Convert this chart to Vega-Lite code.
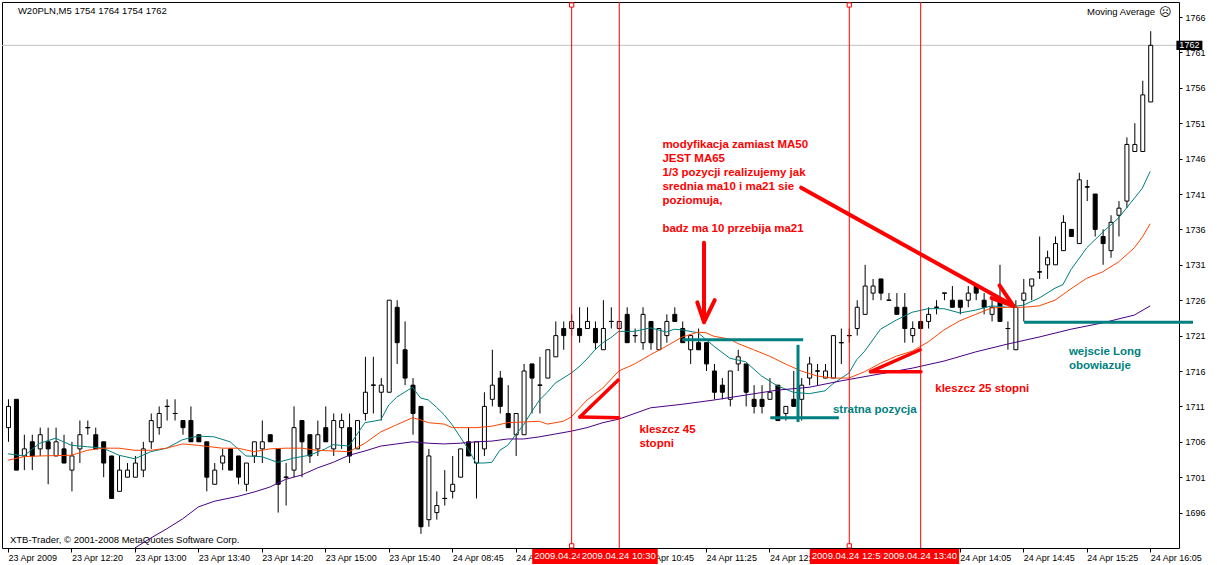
{
"$schema":"https://vega.github.io/schema/vega-lite/v6.json",
"width":1177,"height":546,
"autosize":{"type":"none"},
"padding":{"left":2,"top":2,"right":38,"bottom":17},
"background":"white",
"config":{"view":{"stroke":"black","strokeWidth":1},"axis":{"title":null}},
"resolve":{"axis":{"x":"independent","y":"independent"}},
"datasets":{
"bid":[{"p":1762}],
"candles":[
{"i":0,"o":1708,"h":1712,"l":1706,"c":1711},{"i":1,"o":1712,"h":1712,"l":1702,"c":1702},{"i":2,"o":1704,"h":1707,"l":1702,"c":1705},{"i":3,"o":1706,"h":1707,"l":1702,"c":1704},{"i":4,"o":1705,"h":1708,"l":1704,"c":1707},{"i":5,"o":1706,"h":1708,"l":1700,"c":1705},{"i":6,"o":1704,"h":1708,"l":1704,"c":1706},{"i":7,"o":1705,"h":1707,"l":1703,"c":1703},{"i":8,"o":1702,"h":1706,"l":1699,"c":1704},{"i":9,"o":1705,"h":1709,"l":1703,"c":1707},
{"i":10,"o":1708,"h":1709,"l":1707,"c":1708},{"i":11,"o":1707,"h":1708,"l":1705,"c":1705},{"i":12,"o":1706,"h":1706,"l":1701,"c":1703},{"i":13,"o":1704,"h":1704,"l":1698,"c":1698},{"i":14,"o":1699,"h":1704,"l":1699,"c":1702},{"i":15,"o":1701,"h":1703,"l":1701,"c":1702},{"i":16,"o":1701,"h":1704,"l":1701,"c":1703},{"i":17,"o":1702,"h":1706,"l":1701,"c":1705},{"i":18,"o":1706,"h":1710,"l":1705,"c":1709},{"i":19,"o":1708,"h":1711,"l":1707,"c":1710},
{"i":20,"o":1711,"h":1712,"l":1709,"c":1711},{"i":21,"o":1710,"h":1712,"l":1709,"c":1710},{"i":22,"o":1709,"h":1709,"l":1707,"c":1708},{"i":23,"o":1709,"h":1711,"l":1706,"c":1706},{"i":24,"o":1707,"h":1707,"l":1706,"c":1706},{"i":25,"o":1706,"h":1706,"l":1699,"c":1701},{"i":26,"o":1700,"h":1703,"l":1700,"c":1702},{"i":27,"o":1703,"h":1705,"l":1702,"c":1704},{"i":28,"o":1705,"h":1705,"l":1702,"c":1702},{"i":29,"o":1704,"h":1704,"l":1700,"c":1701},
{"i":30,"o":1700,"h":1703,"l":1699,"c":1703},{"i":31,"o":1704,"h":1706,"l":1703,"c":1706},{"i":32,"o":1705,"h":1709,"l":1703,"c":1706},{"i":33,"o":1707,"h":1707,"l":1706,"c":1706},{"i":34,"o":1705,"h":1705,"l":1696,"c":1700},{"i":35,"o":1701,"h":1703,"l":1697,"c":1701},{"i":36,"o":1702,"h":1711,"l":1701,"c":1708},{"i":37,"o":1709,"h":1709,"l":1701,"c":1706},{"i":38,"o":1707,"h":1707,"l":1703,"c":1704},{"i":39,"o":1705,"h":1709,"l":1704,"c":1707},
{"i":40,"o":1708,"h":1711,"l":1706,"c":1706},{"i":41,"o":1705,"h":1710,"l":1704,"c":1709},{"i":42,"o":1708,"h":1710,"l":1705,"c":1709},{"i":43,"o":1708,"h":1710,"l":1703,"c":1704},{"i":44,"o":1705,"h":1709,"l":1705,"c":1709},{"i":45,"o":1710,"h":1718,"l":1709,"c":1713},{"i":46,"o":1714,"h":1718,"l":1710,"c":1714},{"i":47,"o":1713,"h":1715,"l":1709,"c":1714},{"i":48,"o":1713,"h":1726,"l":1713,"c":1726},{"i":49,"o":1725,"h":1726,"l":1717,"c":1720},
{"i":50,"o":1719,"h":1723,"l":1714,"c":1715},{"i":51,"o":1714,"h":1715,"l":1707,"c":1710},{"i":52,"o":1711,"h":1711,"l":1693,"c":1694},{"i":53,"o":1695,"h":1705,"l":1694,"c":1704},{"i":54,"o":1696,"h":1699,"l":1695,"c":1697},{"i":55,"o":1698,"h":1702,"l":1697,"c":1698},{"i":56,"o":1699,"h":1704,"l":1698,"c":1700},{"i":57,"o":1701,"h":1705,"l":1701,"c":1705},{"i":58,"o":1706,"h":1708,"l":1704,"c":1704},{"i":59,"o":1703,"h":1706,"l":1698,"c":1706},
{"i":60,"o":1705,"h":1713,"l":1704,"c":1711},{"i":61,"o":1712,"h":1719,"l":1711,"c":1714},{"i":62,"o":1715,"h":1716,"l":1710,"c":1711},{"i":63,"o":1710,"h":1714,"l":1708,"c":1708},{"i":64,"o":1707,"h":1710,"l":1704,"c":1710},{"i":65,"o":1707,"h":1717,"l":1707,"c":1716},{"i":66,"o":1717,"h":1717,"l":1710,"c":1715},{"i":67,"o":1714,"h":1718,"l":1710,"c":1714},{"i":68,"o":1715,"h":1719,"l":1715,"c":1719},{"i":69,"o":1718,"h":1723,"l":1718,"c":1721},
{"i":70,"o":1722,"h":1723,"l":1719,"c":1721},{"i":71,"o":1722,"h":1724,"l":1721,"c":1723},{"i":72,"o":1722,"h":1725,"l":1720,"c":1721},{"i":73,"o":1722,"h":1725,"l":1722,"c":1723},{"i":74,"o":1722,"h":1723,"l":1719,"c":1720},{"i":75,"o":1719,"h":1726,"l":1719,"c":1722},{"i":76,"o":1723,"h":1725,"l":1722,"c":1723},{"i":77,"o":1722,"h":1723,"l":1722,"c":1723},{"i":78,"o":1724,"h":1725,"l":1720,"c":1720},{"i":79,"o":1721,"h":1722,"l":1720,"c":1721},
{"i":80,"o":1720,"h":1725,"l":1719,"c":1724},{"i":81,"o":1723,"h":1723,"l":1719,"c":1720},{"i":82,"o":1719,"h":1722,"l":1719,"c":1722},{"i":83,"o":1721,"h":1724,"l":1720,"c":1723},{"i":84,"o":1724,"h":1725,"l":1723,"c":1723},{"i":85,"o":1722,"h":1723,"l":1720,"c":1720},{"i":86,"o":1719,"h":1721,"l":1717,"c":1721},{"i":87,"o":1720,"h":1722,"l":1719,"c":1719},{"i":88,"o":1720,"h":1720,"l":1716,"c":1717},{"i":89,"o":1716,"h":1717,"l":1712,"c":1713},
{"i":90,"o":1714,"h":1715,"l":1712,"c":1713},{"i":91,"o":1712,"h":1716,"l":1711,"c":1716},{"i":92,"o":1717,"h":1719,"l":1716,"c":1718},{"i":93,"o":1717,"h":1717,"l":1711,"c":1713},{"i":94,"o":1712,"h":1714,"l":1710,"c":1711},{"i":95,"o":1712,"h":1714,"l":1710,"c":1711},{"i":96,"o":1712,"h":1715,"l":1712,"c":1713},{"i":97,"o":1714,"h":1714,"l":1709,"c":1709},{"i":98,"o":1710,"h":1711,"l":1709,"c":1711},{"i":99,"o":1712,"h":1716,"l":1711,"c":1711},
{"i":100,"o":1712,"h":1715,"l":1709,"c":1714},{"i":101,"o":1715,"h":1718,"l":1714,"c":1717},{"i":102,"o":1716,"h":1717,"l":1714,"c":1716},{"i":103,"o":1715,"h":1717,"l":1715,"c":1716},{"i":104,"o":1715,"h":1721,"l":1715,"c":1721},{"i":105,"o":1720,"h":1722,"l":1717,"c":1720},{"i":106,"o":1721,"h":1722,"l":1720,"c":1721},{"i":107,"o":1722,"h":1726,"l":1721,"c":1725},{"i":108,"o":1724,"h":1731,"l":1724,"c":1728},{"i":109,"o":1727,"h":1729,"l":1726,"c":1728},
{"i":110,"o":1729,"h":1729,"l":1726,"c":1727},{"i":111,"o":1726,"h":1727,"l":1726,"c":1726},{"i":112,"o":1725,"h":1727,"l":1724,"c":1724},{"i":113,"o":1725,"h":1727,"l":1720,"c":1722},{"i":114,"o":1721,"h":1723,"l":1720,"c":1722},{"i":115,"o":1723,"h":1723,"l":1722,"c":1722},{"i":116,"o":1723,"h":1725,"l":1722,"c":1724},{"i":117,"o":1725,"h":1726,"l":1724,"c":1725},{"i":118,"o":1727,"h":1727,"l":1726,"c":1727},{"i":119,"o":1726,"h":1728,"l":1725,"c":1725},
{"i":120,"o":1726,"h":1726,"l":1724,"c":1725},{"i":121,"o":1726,"h":1728,"l":1725,"c":1727},{"i":122,"o":1728,"h":1728,"l":1726,"c":1727},{"i":123,"o":1726,"h":1727,"l":1724,"c":1725},{"i":124,"o":1724,"h":1726,"l":1723,"c":1725},{"i":125,"o":1726,"h":1731,"l":1723,"c":1723},{"i":126,"o":1722,"h":1723,"l":1719,"c":1722},{"i":127,"o":1719,"h":1726,"l":1719,"c":1725},{"i":128,"o":1726,"h":1729,"l":1723,"c":1727},{"i":129,"o":1728,"h":1729,"l":1726,"c":1729},
{"i":130,"o":1730,"h":1735,"l":1729,"c":1730},{"i":131,"o":1731,"h":1733,"l":1729,"c":1732},{"i":132,"o":1731,"h":1735,"l":1731,"c":1734},{"i":133,"o":1733,"h":1738,"l":1733,"c":1737},{"i":134,"o":1736,"h":1736,"l":1735,"c":1735},{"i":135,"o":1734,"h":1744,"l":1734,"c":1743},{"i":136,"o":1742,"h":1743,"l":1740,"c":1742},{"i":137,"o":1741,"h":1741,"l":1735,"c":1736},{"i":138,"o":1735,"h":1736,"l":1731,"c":1734},{"i":139,"o":1733,"h":1738,"l":1732,"c":1737},
{"i":140,"o":1738,"h":1740,"l":1735,"c":1739},{"i":141,"o":1740,"h":1749,"l":1739,"c":1748},{"i":142,"o":1747,"h":1751,"l":1747,"c":1748},{"i":143,"o":1747,"h":1757,"l":1747,"c":1755},{"i":144,"o":1754,"h":1764,"l":1754,"c":1762}
],
"ma":[
{"i":0,"v":1704.3,"s":"MA10"},{"i":2,"v":1704.0,"s":"MA10"},{"i":4,"v":1705.8,"s":"MA10"},{"i":6,"v":1706.5,"s":"MA10"},{"i":8,"v":1705.5,"s":"MA10"},{"i":10,"v":1705.3,"s":"MA10"},{"i":12,"v":1705.1,"s":"MA10"},{"i":14,"v":1704.1,"s":"MA10"},{"i":16,"v":1703.6,"s":"MA10"},{"i":18,"v":1704.6,"s":"MA10"},{"i":20,"v":1705.1,"s":"MA10"},{"i":22,"v":1706.3,"s":"MA10"},{"i":24,"v":1706.8,"s":"MA10"},{"i":26,"v":1706.7,"s":"MA10"},{"i":28,"v":1706.0,"s":"MA10"},{"i":30,"v":1704.0,"s":"MA10"},{"i":32,"v":1703.9,"s":"MA10"},{"i":34,"v":1703.1,"s":"MA10"},{"i":36,"v":1703.7,"s":"MA10"},{"i":38,"v":1704.1,"s":"MA10"},{"i":40,"v":1705.0,"s":"MA10"},{"i":41,"v":1705.6,"s":"MA10"},{"i":43,"v":1705.4,"s":"MA10"},{"i":45,"v":1708.7,"s":"MA10"},{"i":47,"v":1709.1,"s":"MA10"},{"i":48,"v":1711.2,"s":"MA10"},{"i":49,"v":1712.3,"s":"MA10"},{"i":51,"v":1713.7,"s":"MA10"},{"i":52,"v":1712.2,"s":"MA10"},{"i":53,"v":1711.9,"s":"MA10"},{"i":54,"v":1710.9,"s":"MA10"},{"i":55,"v":1709.8,"s":"MA10"},{"i":56,"v":1708.4,"s":"MA10"},{"i":57,"v":1706.7,"s":"MA10"},{"i":58,"v":1705.0,"s":"MA10"},{"i":59,"v":1703.0,"s":"MA10"},{"i":60,"v":1703.0,"s":"MA10"},{"i":61,"v":1703.1,"s":"MA10"},{"i":62,"v":1704.8,"s":"MA10"},{"i":63,"v":1705.5,"s":"MA10"},{"i":64,"v":1707.0,"s":"MA10"},{"i":65,"v":1708.4,"s":"MA10"},{"i":66,"v":1710.2,"s":"MA10"},{"i":67,"v":1711.9,"s":"MA10"},{"i":68,"v":1713.0,"s":"MA10"},{"i":69,"v":1714.3,"s":"MA10"},{"i":70,"v":1715.0,"s":"MA10"},{"i":71,"v":1715.7,"s":"MA10"},{"i":72,"v":1716.6,"s":"MA10"},{"i":73,"v":1717.7,"s":"MA10"},{"i":74,"v":1719.0,"s":"MA10"},{"i":75,"v":1720.0,"s":"MA10"},{"i":76,"v":1720.7,"s":"MA10"},{"i":77,"v":1721.6,"s":"MA10"},{"i":79,"v":1721.6,"s":"MA10"},{"i":81,"v":1722.1,"s":"MA10"},{"i":83,"v":1721.5,"s":"MA10"},{"i":84,"v":1721.9,"s":"MA10"},{"i":85,"v":1721.8,"s":"MA10"},{"i":87,"v":1721.4,"s":"MA10"},{"i":89,"v":1719.5,"s":"MA10"},{"i":91,"v":1717.8,"s":"MA10"},{"i":93,"v":1717.3,"s":"MA10"},{"i":95,"v":1715.3,"s":"MA10"},{"i":97,"v":1713.9,"s":"MA10"},{"i":99,"v":1713.0,"s":"MA10"},{"i":101,"v":1712.8,"s":"MA10"},{"i":103,"v":1713.2,"s":"MA10"},{"i":104,"v":1714.2,"s":"MA10"},{"i":106,"v":1715.7,"s":"MA10"},{"i":107,"v":1717.6,"s":"MA10"},{"i":108,"v":1718.8,"s":"MA10"},{"i":110,"v":1721.9,"s":"MA10"},{"i":112,"v":1723.2,"s":"MA10"},{"i":114,"v":1724.3,"s":"MA10"},{"i":116,"v":1724.8,"s":"MA10"},{"i":118,"v":1724.8,"s":"MA10"},{"i":120,"v":1724.2,"s":"MA10"},{"i":122,"v":1724.6,"s":"MA10"},{"i":124,"v":1725.2,"s":"MA10"},{"i":126,"v":1725.0,"s":"MA10"},{"i":128,"v":1725.3,"s":"MA10"},{"i":130,"v":1726.3,"s":"MA10"},{"i":132,"v":1727.7,"s":"MA10"},{"i":133,"v":1728.2,"s":"MA10"},{"i":134,"v":1730.3,"s":"MA10"},{"i":136,"v":1733.4,"s":"MA10"},{"i":138,"v":1735.6,"s":"MA10"},{"i":140,"v":1737.6,"s":"MA10"},{"i":142,"v":1740.4,"s":"MA10"},{"i":143,"v":1741.8,"s":"MA10"},{"i":144,"v":1744.2,"s":"MA10"},
{"i":0,"v":1703.4,"s":"MA21"},{"i":2,"v":1703.9,"s":"MA21"},{"i":4,"v":1704.0,"s":"MA21"},{"i":8,"v":1704.1,"s":"MA21"},{"i":10,"v":1704.8,"s":"MA21"},{"i":12,"v":1705.1,"s":"MA21"},{"i":14,"v":1705.1,"s":"MA21"},{"i":16,"v":1704.8,"s":"MA21"},{"i":18,"v":1704.8,"s":"MA21"},{"i":20,"v":1705.1,"s":"MA21"},{"i":22,"v":1705.7,"s":"MA21"},{"i":24,"v":1705.5,"s":"MA21"},{"i":27,"v":1705.1,"s":"MA21"},{"i":29,"v":1705.1,"s":"MA21"},{"i":31,"v":1704.6,"s":"MA21"},{"i":33,"v":1705.0,"s":"MA21"},{"i":35,"v":1705.1,"s":"MA21"},{"i":37,"v":1705.1,"s":"MA21"},{"i":39,"v":1704.8,"s":"MA21"},{"i":41,"v":1704.7,"s":"MA21"},{"i":43,"v":1704.6,"s":"MA21"},{"i":45,"v":1705.8,"s":"MA21"},{"i":47,"v":1707.4,"s":"MA21"},{"i":49,"v":1708.4,"s":"MA21"},{"i":51,"v":1709.4,"s":"MA21"},{"i":52,"v":1709.1,"s":"MA21"},{"i":53,"v":1708.7,"s":"MA21"},{"i":55,"v":1708.5,"s":"MA21"},{"i":56,"v":1708.0,"s":"MA21"},{"i":59,"v":1708.0,"s":"MA21"},{"i":61,"v":1708.2,"s":"MA21"},{"i":63,"v":1708.7,"s":"MA21"},{"i":65,"v":1708.8,"s":"MA21"},{"i":67,"v":1708.9,"s":"MA21"},{"i":68,"v":1708.5,"s":"MA21"},{"i":70,"v":1708.9,"s":"MA21"},{"i":71,"v":1709.5,"s":"MA21"},{"i":73,"v":1711.9,"s":"MA21"},{"i":75,"v":1713.6,"s":"MA21"},{"i":77,"v":1716.0,"s":"MA21"},{"i":79,"v":1717.0,"s":"MA21"},{"i":81,"v":1718.3,"s":"MA21"},{"i":83,"v":1719.5,"s":"MA21"},{"i":85,"v":1720.8,"s":"MA21"},{"i":87,"v":1721.5,"s":"MA21"},{"i":88,"v":1721.4,"s":"MA21"},{"i":89,"v":1720.9,"s":"MA21"},{"i":91,"v":1720.5,"s":"MA21"},{"i":92,"v":1719.9,"s":"MA21"},{"i":94,"v":1719.0,"s":"MA21"},{"i":96,"v":1718.1,"s":"MA21"},{"i":98,"v":1717.0,"s":"MA21"},{"i":100,"v":1716.0,"s":"MA21"},{"i":102,"v":1715.3,"s":"MA21"},{"i":104,"v":1715.0,"s":"MA21"},{"i":106,"v":1715.0,"s":"MA21"},{"i":108,"v":1715.9,"s":"MA21"},{"i":110,"v":1717.1,"s":"MA21"},{"i":112,"v":1718.1,"s":"MA21"},{"i":114,"v":1718.8,"s":"MA21"},{"i":116,"v":1720.1,"s":"MA21"},{"i":118,"v":1721.8,"s":"MA21"},{"i":120,"v":1723.1,"s":"MA21"},{"i":122,"v":1724.0,"s":"MA21"},{"i":124,"v":1724.9,"s":"MA21"},{"i":126,"v":1725.0,"s":"MA21"},{"i":128,"v":1725.0,"s":"MA21"},{"i":130,"v":1725.2,"s":"MA21"},{"i":132,"v":1726.0,"s":"MA21"},{"i":134,"v":1727.6,"s":"MA21"},{"i":136,"v":1729.1,"s":"MA21"},{"i":138,"v":1730.0,"s":"MA21"},{"i":140,"v":1731.4,"s":"MA21"},{"i":142,"v":1733.4,"s":"MA21"},{"i":143,"v":1734.9,"s":"MA21"},{"i":144,"v":1736.8,"s":"MA21"},
{"i":16,"v":1691.0,"s":"MA65"},{"i":18,"v":1692.4,"s":"MA65"},{"i":20,"v":1693.7,"s":"MA65"},{"i":22,"v":1695.1,"s":"MA65"},{"i":24,"v":1696.8,"s":"MA65"},{"i":26,"v":1697.6,"s":"MA65"},{"i":29,"v":1698.3,"s":"MA65"},{"i":31,"v":1698.9,"s":"MA65"},{"i":33,"v":1699.6,"s":"MA65"},{"i":35,"v":1700.7,"s":"MA65"},{"i":37,"v":1701.3,"s":"MA65"},{"i":39,"v":1702.3,"s":"MA65"},{"i":41,"v":1703.1,"s":"MA65"},{"i":43,"v":1704.1,"s":"MA65"},{"i":45,"v":1704.7,"s":"MA65"},{"i":47,"v":1705.4,"s":"MA65"},{"i":49,"v":1705.7,"s":"MA65"},{"i":51,"v":1706.0,"s":"MA65"},{"i":53,"v":1705.8,"s":"MA65"},{"i":55,"v":1705.7,"s":"MA65"},{"i":57,"v":1705.8,"s":"MA65"},{"i":59,"v":1706.0,"s":"MA65"},{"i":61,"v":1706.1,"s":"MA65"},{"i":63,"v":1706.4,"s":"MA65"},{"i":65,"v":1706.4,"s":"MA65"},{"i":67,"v":1706.7,"s":"MA65"},{"i":69,"v":1707.1,"s":"MA65"},{"i":71,"v":1707.5,"s":"MA65"},{"i":73,"v":1708.0,"s":"MA65"},{"i":75,"v":1708.7,"s":"MA65"},{"i":77,"v":1709.2,"s":"MA65"},{"i":81,"v":1710.8,"s":"MA65"},{"i":85,"v":1711.3,"s":"MA65"},{"i":89,"v":1711.9,"s":"MA65"},{"i":93,"v":1712.6,"s":"MA65"},{"i":97,"v":1713.3,"s":"MA65"},{"i":101,"v":1713.7,"s":"MA65"},{"i":105,"v":1714.6,"s":"MA65"},{"i":110,"v":1715.6,"s":"MA65"},{"i":114,"v":1716.4,"s":"MA65"},{"i":118,"v":1717.4,"s":"MA65"},{"i":122,"v":1718.7,"s":"MA65"},{"i":126,"v":1719.8,"s":"MA65"},{"i":130,"v":1720.8,"s":"MA65"},{"i":134,"v":1721.9,"s":"MA65"},{"i":138,"v":1722.8,"s":"MA65"},{"i":142,"v":1723.9,"s":"MA65"},{"i":144,"v":1725.2,"s":"MA65"}
],
"vlines":[{"i":71},{"i":77},{"i":106},{"i":115}],
"marks":[{"i":71,"p":1767.7},{"i":71,"p":1691.3},{"i":106,"p":1767.7},{"i":106,"p":1691.3}],
"segs":[
{"g":"down","x":87.75,"y":1734.1,"x2":87.75,"y2":1723.2},{"g":"down","x":86.9,"y":1725.7,"x2":87.75,"y2":1722.9},{"g":"down","x":89.1,"y":1726.0,"x2":87.75,"y2":1722.9},
{"g":"long","x":100,"y":1741.9,"x2":126.75,"y2":1725.2},{"g":"long","x":125.0,"y":1728.1,"x2":126.75,"y2":1725.2},{"g":"long","x":124.0,"y":1726.3,"x2":126.75,"y2":1725.2},
{"g":"pincer","x":76.9,"y":1714.7,"x2":72.1,"y2":1709.5},{"g":"pincer","x":72.1,"y":1709.5,"x2":77.0,"y2":1709.4},{"g":"pincer","x":115.0,"y":1719.0,"x2":108.75,"y2":1715.9},{"g":"pincer","x":108.75,"y":1715.9,"x2":115.1,"y2":1715.9},
{"g":"teal","x":85,"y":1720.4,"x2":100.25,"y2":1720.4},{"g":"teal","x":99.6,"y":1719.7,"x2":99.6,"y2":1708.8},{"g":"teal","x":96.1,"y":1709.4,"x2":104.75,"y2":1709.4},{"g":"teal","x":128.1,"y":1722.9,"x2":149.4,"y2":1722.9}
],
"notes":[
{"g":"red","i":82.5,"p":1748.8,"t":"modyfikacja zamiast MA50\nJEST MA65\n1/3 pozycji realizujemy jak\nsrednia ma10 i ma21 sie\npoziomuja,"},
{"g":"red","i":82.5,"p":1736.9,"t":"badz ma 10 przebija ma21"},
{"g":"red","i":79.6,"p":1708.5,"t":"kleszcz 45\nstopni"},
{"g":"red","i":116.9,"p":1714.3,"t":"kleszcz 25 stopni"},
{"g":"teal","i":104,"p":1711.3,"t":"stratna pozycja"},
{"g":"teal","i":133.75,"p":1719.5,"t":"wejscie Long\nobowiazuje"}
],
"tlabels":[{"i":71,"t":"2009.04.24 10:00","g":1},{"i":77,"t":"2009.04.24 10:30","g":2},{"i":106,"t":"2009.04.24 12:55","g":1},{"i":115,"t":"2009.04.24 13:40","g":2}],
"last":[{"i":148.94,"p":1762,"t":"1762"}],
"hdr":[
{"g":"left","i":1.25,"p":1766.85,"t":"W20PLN,M5  1754 1764 1754 1762"},
{"g":"right","i":144.6,"p":1766.7,"t":"Moving Average"},
{"g":"icon","i":145.9,"p":1766.75,"t":"☹"},
{"g":"left","i":0.25,"p":1692.13,"t":"XTB-Trader, © 2001-2008 MetaQuotes Software Corp."}
]
},
"layer":[
{"data":{"name":"bid"},"mark":{"type":"rule","color":"#C0C0C0","strokeWidth":1},
 "encoding":{"y":{"field":"p","type":"quantitative","scale":{"domain":[1691.0,1768.12],"nice":false,"zero":false},"axis":null}}},
{"data":{"name":"candles"},"mark":{"type":"rule","color":"black","strokeWidth":1,"xOffset":0.5},
 "encoding":{
  "x":{"field":"i","type":"quantitative","scale":{"domain":[-0.125,147],"nice":false,"zero":false},
   "axis":{"orient":"bottom","values":[0,8,16,24,32,40,48,56,64,72,80,88,96,104,112,120,128,136,144],
    "labelExpr":"['23 Apr 2009','23 Apr 12:20','23 Apr 13:00','23 Apr 13:40','23 Apr 14:20','23 Apr 15:00','23 Apr 15:40','24 Apr 08:45','24 Apr 09:25','24 Apr 10:05','24 Apr 10:45','24 Apr 11:25','24 Apr 12:05','24 Apr 12:45','24 Apr 13:25','24 Apr 14:05','24 Apr 14:45','24 Apr 15:25','24 Apr 16:05'][round(datum.value/8)]",
    "labelAlign":"left","labelBaseline":"top","labelFont":"Liberation Sans","labelFontSize":9,"labelColor":"black","tickColor":"black","tickSize":4,"labelPadding":1,"labelDx":0.5,"domain":false,"grid":false,"title":null,"labelOverlap":false,"labelFlush":false,"labelBound":false}},
  "y":{"field":"l","type":"quantitative","scale":{"domain":[1691.0,1768.12],"nice":false,"zero":false},
   "axis":{"orient":"right","values":[1696,1701,1706,1711,1716,1721,1726,1731,1736,1741,1746,1751,1756,1761,1766],"format":"d",
    "labelFont":"Liberation Sans","labelFontSize":9,"labelColor":"black","tickColor":"black","tickSize":3,"labelPadding":3,"labelBaseline":"middle","domain":false,"grid":false,"title":null,"labelOverlap":false,"labelBound":false,"labelFlush":false}},
  "y2":{"field":"h"}}},
{"data":{"name":"candles"},"mark":{"type":"bar","size":4,"stroke":"black","strokeWidth":1,"xOffset":0.5},
 "encoding":{
  "x":{"field":"i","type":"quantitative","scale":{"domain":[-0.125,147],"nice":false,"zero":false},"axis":null},
  "y":{"field":"o","type":"quantitative","scale":{"domain":[1691.0,1768.12],"nice":false,"zero":false},"axis":null},
  "y2":{"field":"c"},
  "fill":{"condition":{"test":"datum.c < datum.o","value":"black"},"value":"white"}}},
{"data":{"name":"candles"},"transform":[{"filter":"datum.o == datum.c"}],"mark":{"type":"tick","orient":"horizontal","size":5,"thickness":1,"color":"black","xOffset":0.5},
 "encoding":{
  "x":{"field":"i","type":"quantitative","scale":{"domain":[-0.125,147],"nice":false,"zero":false},"axis":null},
  "y":{"field":"c","type":"quantitative","scale":{"domain":[1691.0,1768.12],"nice":false,"zero":false},"axis":null}}},
{"data":{"name":"ma"},"mark":{"type":"line","strokeWidth":1},
 "encoding":{
  "x":{"field":"i","type":"quantitative","scale":{"domain":[-0.125,147],"nice":false,"zero":false},"axis":null},
  "y":{"field":"v","type":"quantitative","scale":{"domain":[1691.0,1768.12],"nice":false,"zero":false},"axis":null},
  "color":{"field":"s","type":"nominal","scale":{"domain":["MA10","MA21","MA65"],"range":["#008080","#FF4500","#4B0082"]},"legend":null}}},
{"data":{"name":"vlines"},"mark":{"type":"rule","color":"#FF0000","strokeWidth":1,"xOffset":0.5},
 "encoding":{"x":{"field":"i","type":"quantitative","scale":{"domain":[-0.125,147],"nice":false,"zero":false},"axis":null}}},
{"data":{"name":"marks"},"mark":{"type":"point","shape":"square","size":18,"filled":true,"fill":"white","stroke":"#FF0000","strokeWidth":1,"opacity":1,"xOffset":0.5},
 "encoding":{
  "x":{"field":"i","type":"quantitative","scale":{"domain":[-0.125,147],"nice":false,"zero":false},"axis":null},
  "y":{"field":"p","type":"quantitative","scale":{"domain":[1691.0,1768.12],"nice":false,"zero":false},"axis":null}}},
{"data":{"name":"segs"},"transform":[{"filter":"datum.g == 'down' || datum.g == 'long'"}],"mark":{"type":"rule","color":"#FF0000","strokeWidth":4,"strokeCap":"round"},
 "encoding":{
  "x":{"field":"x","type":"quantitative","scale":{"domain":[-0.125,147],"nice":false,"zero":false},"axis":null},
  "y":{"field":"y","type":"quantitative","scale":{"domain":[1691.0,1768.12],"nice":false,"zero":false},"axis":null},
  "x2":{"field":"x2"},"y2":{"field":"y2"}}},
{"data":{"name":"segs"},"transform":[{"filter":"datum.g == 'pincer'"}],"mark":{"type":"rule","color":"#FF0000","strokeWidth":3.5,"strokeCap":"round"},
 "encoding":{
  "x":{"field":"x","type":"quantitative","scale":{"domain":[-0.125,147],"nice":false,"zero":false},"axis":null},
  "y":{"field":"y","type":"quantitative","scale":{"domain":[1691.0,1768.12],"nice":false,"zero":false},"axis":null},
  "x2":{"field":"x2"},"y2":{"field":"y2"}}},
{"data":{"name":"segs"},"transform":[{"filter":"datum.g == 'teal'"}],"mark":{"type":"rule","color":"#008080","strokeWidth":3},
 "encoding":{
  "x":{"field":"x","type":"quantitative","scale":{"domain":[-0.125,147],"nice":false,"zero":false},"axis":null},
  "y":{"field":"y","type":"quantitative","scale":{"domain":[1691.0,1768.12],"nice":false,"zero":false},"axis":null},
  "x2":{"field":"x2"},"y2":{"field":"y2"}}},
{"data":{"name":"notes"},"transform":[{"filter":"datum.g == 'red'"}],"mark":{"type":"text","align":"left","baseline":"top","lineBreak":"\n","lineHeight":14,"font":"Liberation Sans","fontWeight":"bold","fontSize":11.5,"color":"#FF0000"},
 "encoding":{
  "x":{"field":"i","type":"quantitative","scale":{"domain":[-0.125,147],"nice":false,"zero":false},"axis":null},
  "y":{"field":"p","type":"quantitative","scale":{"domain":[1691.0,1768.12],"nice":false,"zero":false},"axis":null},
  "text":{"field":"t"}}},
{"data":{"name":"notes"},"transform":[{"filter":"datum.g == 'teal'"}],"mark":{"type":"text","align":"left","baseline":"top","lineBreak":"\n","lineHeight":14,"font":"Liberation Sans","fontWeight":"bold","fontSize":11.5,"color":"#008080"},
 "encoding":{
  "x":{"field":"i","type":"quantitative","scale":{"domain":[-0.125,147],"nice":false,"zero":false},"axis":null},
  "y":{"field":"p","type":"quantitative","scale":{"domain":[1691.0,1768.12],"nice":false,"zero":false},"axis":null},
  "text":{"field":"t"}}},
{"data":{"name":"tlabels"},"transform":[{"filter":"datum.g == 1"}],"mark":{"type":"bar","size":78,"color":"#FF0000"},
 "encoding":{
  "x":{"field":"i","type":"quantitative","scale":{"domain":[-0.125,147],"nice":false,"zero":false},"axis":null},
  "y":{"datum":1690.86,"type":"quantitative","scale":{"domain":[1691.0,1768.12],"nice":false,"zero":false},"axis":null},
  "y2":{"datum":1688.74}}},
{"data":{"name":"tlabels"},"transform":[{"filter":"datum.g == 1"}],"mark":{"type":"text","align":"center","baseline":"middle","font":"Liberation Sans","fontSize":9.5,"color":"white"},
 "encoding":{
  "x":{"field":"i","type":"quantitative","scale":{"domain":[-0.125,147],"nice":false,"zero":false},"axis":null},
  "y":{"datum":1689.85,"type":"quantitative","scale":{"domain":[1691.0,1768.12],"nice":false,"zero":false},"axis":null},
  "text":{"field":"t"}}},
{"data":{"name":"tlabels"},"transform":[{"filter":"datum.g == 2"}],"mark":{"type":"bar","size":78,"color":"#FF0000"},
 "encoding":{
  "x":{"field":"i","type":"quantitative","scale":{"domain":[-0.125,147],"nice":false,"zero":false},"axis":null},
  "y":{"datum":1690.86,"type":"quantitative","scale":{"domain":[1691.0,1768.12],"nice":false,"zero":false},"axis":null},
  "y2":{"datum":1688.74}}},
{"data":{"name":"tlabels"},"transform":[{"filter":"datum.g == 2"}],"mark":{"type":"text","align":"center","baseline":"middle","font":"Liberation Sans","fontSize":9.5,"color":"white"},
 "encoding":{
  "x":{"field":"i","type":"quantitative","scale":{"domain":[-0.125,147],"nice":false,"zero":false},"axis":null},
  "y":{"datum":1689.85,"type":"quantitative","scale":{"domain":[1691.0,1768.12],"nice":false,"zero":false},"axis":null},
  "text":{"field":"t"}}},
{"data":{"name":"last"},"mark":{"type":"bar","size":26,"color":"black"},
 "encoding":{
  "x":{"field":"i","type":"quantitative","scale":{"domain":[-0.125,147],"nice":false,"zero":false},"axis":null},
  "y":{"datum":1762.65,"type":"quantitative","scale":{"domain":[1691.0,1768.12],"nice":false,"zero":false},"axis":null},
  "y2":{"datum":1761.34}}},
{"data":{"name":"last"},"mark":{"type":"text","align":"center","baseline":"middle","font":"Liberation Sans","fontSize":9,"color":"white"},
 "encoding":{
  "x":{"field":"i","type":"quantitative","scale":{"domain":[-0.125,147],"nice":false,"zero":false},"axis":null},
  "y":{"field":"p","type":"quantitative","scale":{"domain":[1691.0,1768.12],"nice":false,"zero":false},"axis":null},
  "text":{"field":"t"}}},
{"data":{"name":"hdr"},"transform":[{"filter":"datum.g == 'left'"}],"mark":{"type":"text","align":"left","baseline":"middle","font":"Liberation Sans","fontSize":9.5,"color":"black"},
 "encoding":{
  "x":{"field":"i","type":"quantitative","scale":{"domain":[-0.125,147],"nice":false,"zero":false},"axis":null},
  "y":{"field":"p","type":"quantitative","scale":{"domain":[1691.0,1768.12],"nice":false,"zero":false},"axis":null},
  "text":{"field":"t"}}},
{"data":{"name":"hdr"},"transform":[{"filter":"datum.g == 'right'"}],"mark":{"type":"text","align":"right","baseline":"middle","font":"Liberation Sans","fontSize":9.5,"color":"black"},
 "encoding":{
  "x":{"field":"i","type":"quantitative","scale":{"domain":[-0.125,147],"nice":false,"zero":false},"axis":null},
  "y":{"field":"p","type":"quantitative","scale":{"domain":[1691.0,1768.12],"nice":false,"zero":false},"axis":null},
  "text":{"field":"t"}}},
{"data":{"name":"hdr"},"transform":[{"filter":"datum.g == 'icon'"}],"mark":{"type":"text","align":"center","baseline":"middle","font":"DejaVu Sans","fontSize":12,"color":"black"},
 "encoding":{
  "x":{"field":"i","type":"quantitative","scale":{"domain":[-0.125,147],"nice":false,"zero":false},"axis":null},
  "y":{"field":"p","type":"quantitative","scale":{"domain":[1691.0,1768.12],"nice":false,"zero":false},"axis":null},
  "text":{"field":"t"}}}
]
}
